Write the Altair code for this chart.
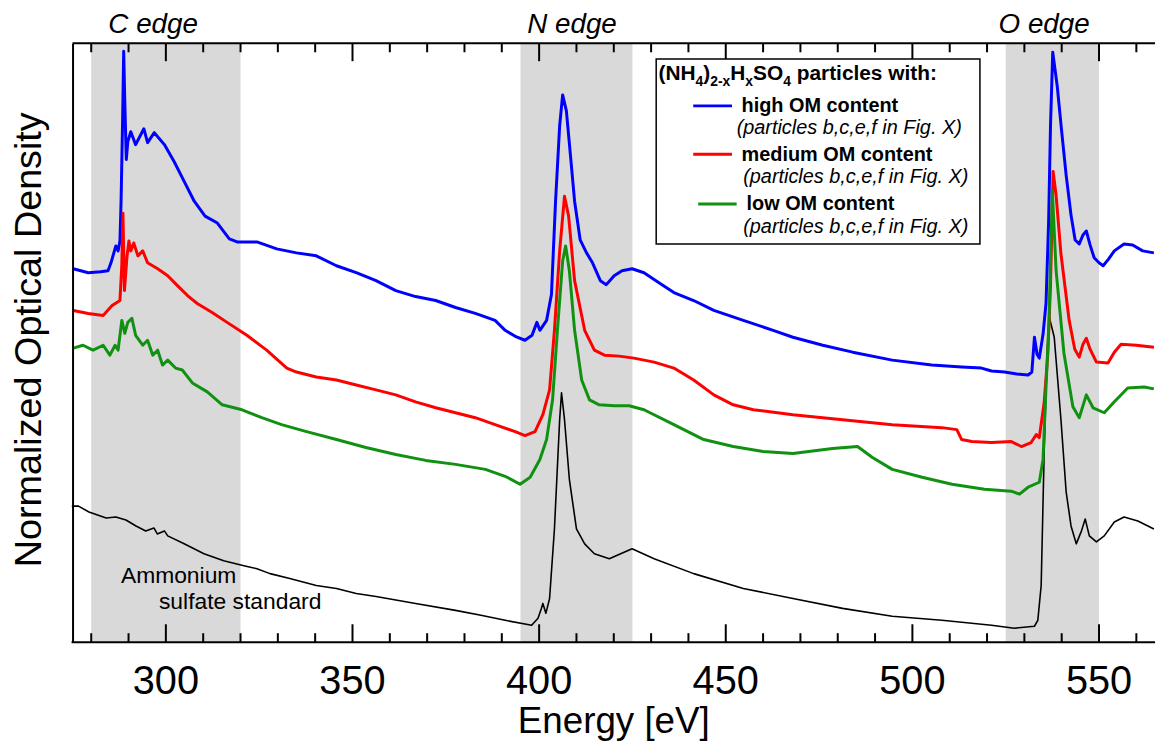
import altair as alt
import pandas as pd

FONT = "Liberation Sans"

# ---- spectra: (energy [eV], normalized optical density, offset units) ----
high_om = [(275.2,3.76),(279.2,3.72),(282.5,3.73),(284.5,3.74),(285.3,3.82),(286.6,3.99),(287.2,3.94),
 (287.7,4.04),(288.0,4.44),(288.4,5.24),(288.7,5.95),(289.0,5.44),(289.4,4.86),(289.8,5.04),(290.6,5.14),
 (291.9,5.01),(294.1,5.17),(295.1,5.03),(296.9,5.13),(299.6,5.01),(302.2,4.84),(304.9,4.64),(307.6,4.44),
 (310.5,4.29),(313.8,4.22),(317.0,4.06),(319.1,4.03),(324.4,4.03),(329.7,3.96),(335.0,3.92),(340.3,3.89),
 (345.7,3.79),(351.0,3.72),(356.3,3.64),(361.6,3.54),(366.9,3.48),(372.3,3.44),(377.6,3.37),(382.9,3.31),
 (388.2,3.24),(390.9,3.14),(393.6,3.08),(396.2,3.04),(398.1,3.09),(399.4,3.22),(400.2,3.14),(402.0,3.24),
 (403.3,3.50),(404.4,4.44),(405.5,5.20),(406.3,5.51),(407.3,5.35),(408.4,4.90),(409.5,4.44),(411.0,4.05),
 (412.7,3.92),(414.3,3.82),(416.4,3.64),(418.0,3.60),(420.1,3.69),(422.2,3.74),(424.9,3.76),(428.1,3.72),
 (432.1,3.62),(436.1,3.52),(441.4,3.44),(446.8,3.34),(454.7,3.24),(462.7,3.14),(468.0,3.07),(476.0,2.99),
 (484.0,2.92),(494.6,2.84),(505.2,2.79),(513.2,2.77),(518.5,2.76),(521.2,2.73),(524.7,2.72),(528.0,2.70),
 (531.0,2.69),(532.0,2.72),(532.7,3.07),(533.4,2.90),(534.0,2.86),(535.0,3.10),(535.8,3.41),(536.5,4.24),
 (537.0,5.20),(537.6,5.94),(538.8,5.60),(540.0,5.14),(541.2,4.70),(542.5,4.30),(543.6,4.05),(544.7,4.01),
 (545.7,4.10),(546.6,4.14),(547.6,4.00),(548.7,3.87),(550.0,3.82),(551.1,3.79),(552.6,3.86),(554.1,3.94),
 (556.7,4.01),(559.0,4.00),(561.7,3.94),(564.7,3.92)]

medium_om = [(275.2,3.34),(279.2,3.31),(283.2,3.29),(285.6,3.39),(287.7,3.44),(288.2,3.80),(288.5,4.32),
 (288.9,3.54),(289.6,3.89),(290.1,4.04),(290.6,3.94),(291.4,4.02),(292.5,3.89),(293.8,3.94),(295.1,3.82),
 (297.8,3.76),(300.5,3.69),(303.1,3.59),(305.8,3.49),(308.4,3.41),(312.4,3.32),(316.4,3.22),(321.7,3.09),
 (327.0,2.94),(332.4,2.76),(335.0,2.72),(340.3,2.67),(345.7,2.64),(351.0,2.59),(356.3,2.54),(361.6,2.49),
 (366.9,2.42),(372.3,2.36),(377.6,2.31),(382.9,2.26),(388.2,2.19),(393.6,2.12),(396.2,2.08),(398.9,2.12),
 (401.0,2.29),(402.8,2.54),(404.1,3.14),(405.5,3.94),(406.8,4.49),(407.9,4.29),(409.5,3.64),(412.2,3.14),
 (414.8,2.94),(417.5,2.89),(421.4,2.88),(425.4,2.86),(430.8,2.82),(436.1,2.76),(441.4,2.64),(446.8,2.49),
 (452.0,2.39),(457.4,2.34),(468.0,2.29),(481.3,2.24),(494.6,2.19),(507.9,2.16),(511.9,2.14),(513.2,2.04),
 (515.9,2.02),(521.2,2.01),(526.5,2.02),(529.2,1.97),(531.8,2.01),(533.2,2.09),(534.0,2.06),(535.3,2.41),
 (536.3,2.91),(537.0,3.60),(537.7,4.74),(538.5,4.50),(539.8,3.91),(542.0,3.24),(543.5,2.95),(544.7,2.87),
 (545.7,3.00),(546.6,3.06),(547.6,2.95),(549.3,2.82),(552.4,2.81),(554.1,2.92),(555.9,3.00),(560.0,2.99),
 (564.7,2.97)]

low_om = [(275.2,2.96),(277.8,2.99),(280.5,2.94),(283.2,2.99),(285.0,2.89),(286.4,2.99),(287.2,2.94),
 (288.2,3.24),(289.0,3.11),(289.8,3.22),(290.9,3.26),(291.9,3.09),(293.8,2.99),(295.1,3.04),(296.5,2.89),
 (297.8,2.94),(299.1,2.79),(300.5,2.84),(302.6,2.76),(304.4,2.74),(307.1,2.61),(311.1,2.52),(315.1,2.39),
 (320.4,2.34),(325.7,2.26),(331.0,2.19),(337.7,2.12),(345.7,2.04),(353.6,1.96),(361.6,1.89),(369.6,1.83),
 (377.6,1.79),(385.6,1.74),(390.9,1.67),(394.9,1.59),(397.6,1.66),(400.2,1.84),(402.0,2.04),(403.6,2.44),
 (404.9,3.14),(406.3,3.84),(407.1,3.99),(408.1,3.74),(409.5,3.14),(411.4,2.64),(413.5,2.44),(416.1,2.39),
 (420.1,2.38),(424.1,2.38),(428.1,2.34),(436.1,2.19),(444.1,2.04),(452.0,1.97),(460.0,1.92),(468.0,1.90),
 (478.6,1.95),(485.3,1.97),(489.3,1.86),(494.6,1.74),(502.6,1.66),(510.6,1.59),(519.3,1.54),(526.5,1.52),
 (528.7,1.49),(531.0,1.56),(534.0,1.61),(535.0,1.84),(535.8,2.57),(536.6,3.24),(537.5,4.54),(538.5,3.74),
 (540.6,2.91),(543.0,2.37),(544.7,2.26),(546.6,2.49),(548.4,2.36),(551.4,2.31),(554.1,2.42),(557.7,2.56),
 (562.1,2.57),(564.7,2.55)]

ammonium_sulfate = [(274.8,1.37),(276.6,1.37),(279.4,1.31),(284.0,1.25),(286.6,1.26),(289.3,1.23),
 (292.0,1.17),(294.6,1.12),(296.8,1.15),(297.7,1.09),(299.6,1.12),(300.5,1.07),(304.9,0.99),(310.2,0.89),
 (315.5,0.82),(320.9,0.77),(324.4,0.74),(327.9,0.69),(333.2,0.64),(340.3,0.57),(345.7,0.54),(351.0,0.49),
 (356.3,0.46),(366.9,0.39),(377.6,0.32),(384.4,0.27),(390.9,0.22),(398.0,0.17),(399.7,0.24),(400.6,0.34),
 (401.0,0.39),(401.8,0.29),(402.8,0.44),(404.1,1.14),(405.5,2.24),(406.0,2.51),(406.8,2.24),(408.1,1.64),
 (410.0,1.14),(412.2,0.99),(414.8,0.89),(418.8,0.84),(424.9,0.94),(430.8,0.84),(441.4,0.69),(454.7,0.54),
 (468.0,0.44),(481.3,0.34),(494.6,0.26),(507.9,0.22),(521.2,0.17),(527.3,0.14),(532.7,0.16),(533.6,0.22),
 (534.5,0.57),(535.3,1.91),(536.1,2.91),(536.7,3.27),(538.0,3.07),(539.8,2.24),(541.2,1.51),(542.5,1.17),
 (543.9,0.99),(545.2,1.11),(546.3,1.24),(547.4,1.07),(549.3,1.01),(551.4,1.07),(554.1,1.21),(556.7,1.26),
 (560.4,1.22),(564.7,1.14)]

band_start = [280, 395, 525]
band_end = [320, 425, 550]
edge_names = ["C edge", "N edge", "O edge"]
edge_pos = [296.6, 408.8, 535.3]
x_labels = [300, 350, 400, 450, 500, 550]
minor_ticks = [280, 290, 310, 320, 330, 340, 360, 370, 380, 390, 410, 420, 430, 440,
               460, 470, 480, 490, 510, 520, 530, 540, 560]

W, H = 1090, 603
xs = alt.Scale(domain=[275, 565], nice=False, zero=False)
ys = alt.Scale(domain=[0, 6.03], nice=False, zero=False)


def frame(pairs):
    return pd.DataFrame(pairs, columns=["E", "OD"])


bands = alt.Chart(pd.DataFrame({"s": band_start, "e": band_end})).mark_rect(color="#d9d9d9").encode(
    x=alt.X("s:Q", scale=xs, axis=None),
    x2="e:Q",
    y=alt.value(0), y2=alt.value(H),
)

y_axis = alt.Axis(
    title="Normalized Optical Density", titleFont=FONT, titleFontSize=38, titleFontWeight="normal",
    titleColor="black", titleAngle=270, titleX=-32, titleY=298, titleAlign="center",
    titleBaseline="alphabetic", labels=False, ticks=False, domainColor="black", domainWidth=2,
    grid=False, zindex=1)


def curve(pairs, color, width):
    return alt.Chart(frame(pairs)).mark_line(color=color, strokeWidth=width, strokeJoin="round").encode(
        x=alt.X("E:Q", scale=xs, axis=None),
        y=alt.Y("OD:Q", scale=ys, axis=y_axis),
    )


def ticks(vals, y0, y1):
    return alt.Chart(pd.DataFrame({"t": vals})).mark_rule(color="black", strokeWidth=2).encode(
        x=alt.X("t:Q", scale=xs, axis=None), y=alt.value(y0), y2=alt.value(y1))


dummy = pd.DataFrame({"a": [0]})

top_line = alt.Chart(dummy).mark_rule(color="black", strokeWidth=2).encode(
    x=alt.value(0), x2=alt.value(W), y=alt.value(0))
bottom_line = alt.Chart(dummy).mark_rule(color="black", strokeWidth=2).encode(
    x=alt.value(-1), x2=alt.value(W), y=alt.value(H))

tick_labels = alt.Chart(pd.DataFrame({"v": x_labels})).mark_text(
    font=FONT, fontSize=40, baseline="alphabetic", align="center", color="black"
).encode(x=alt.X("v:Q", scale=xs, axis=None), y=alt.value(655), text="v:Q")

x_title = alt.Chart(dummy).mark_text(
    text="Energy [eV]", font=FONT, fontSize=37, baseline="alphabetic", align="center", color="black"
).encode(x=alt.value(W / 2), y=alt.value(694))

edges = alt.Chart(pd.DataFrame({"E": edge_pos, "n": edge_names})).mark_text(
    font=FONT, fontSize=28, fontStyle="italic", baseline="alphabetic", align="center", color="black"
).encode(x=alt.X("E:Q", scale=xs, axis=None), y=alt.value(-10.5), text="n:N")


def txt(s, x, y, size, weight="normal", style="normal"):
    return alt.Chart(dummy).mark_text(
        text=s, font=FONT, fontSize=size, fontWeight=weight, fontStyle=style, align="left",
        baseline="alphabetic", color="black").encode(x=alt.value(x), y=alt.value(y))


def seg(x0, x1, y, color):
    return alt.Chart(dummy).mark_rule(color=color, strokeWidth=3).encode(
        x=alt.value(x0), x2=alt.value(x1), y=alt.value(y))


legend_box = alt.Chart(dummy).mark_rect(fill="white", stroke="black", strokeWidth=1.5).encode(
    x=alt.value(587.7), x2=alt.value(913.7), y=alt.value(15.7), y2=alt.value(202))

legend = [
    legend_box,
    txt("(NH", 590, 37, 21, "bold"), txt("4", 627.3, 43, 14, "bold"), txt(")", 635.1, 37, 21, "bold"),
    txt("2-x", 642.1, 43, 14, "bold"), txt("H", 662.3, 37, 21, "bold"), txt("x", 677.5, 43, 14, "bold"),
    txt("SO", 685.3, 37, 21, "bold"), txt("4", 715.6, 43, 14, "bold"),
    txt("particles with:", 729.2, 37, 21, "bold"),
    seg(625, 664, 63, "#0000ff"), txt("high OM content", 673.7, 69, 20, "bold"),
    txt("(particles b,c,e,f in Fig. X)", 668.7, 91.5, 20, style="italic"),
    seg(625, 664, 111.7, "#ff0000"), txt("medium OM content", 673.7, 119, 20, "bold"),
    txt("(particles b,c,e,f in Fig. X)", 675.3, 140.7, 20, style="italic"),
    seg(630, 668.7, 161.7, "#119111"), txt("low OM content", 678.7, 168.3, 20, "bold"),
    txt("(particles b,c,e,f in Fig. X)", 675.3, 190.7, 20, style="italic"),
]

chart = alt.layer(
    bands,
    curve(ammonium_sulfate, "black", 1.6),
    curve(high_om, "#0000ff", 3),
    curve(medium_om, "#ff0000", 3),
    curve(low_om, "#119111", 3),
    ticks(x_labels, H, H - 18), ticks(minor_ticks, H, H - 9),
    ticks(x_labels, 0, 18), ticks(minor_ticks, 0, 9),
    top_line, bottom_line, tick_labels, x_title, edges,
    txt("Ammonium", 48.7, 543, 23), txt("sulfate standard", 87, 569.5, 23),
    *legend,
).properties(
    width=W, height=H,
    autosize=alt.AutoSizeParams(type="none"),
    padding={"left": 65, "top": 33, "right": 2, "bottom": 100},
    background="white",
).configure_view(strokeOpacity=0)

chart.save("out.html", embed_options={"renderer": "svg", "actions": False})
